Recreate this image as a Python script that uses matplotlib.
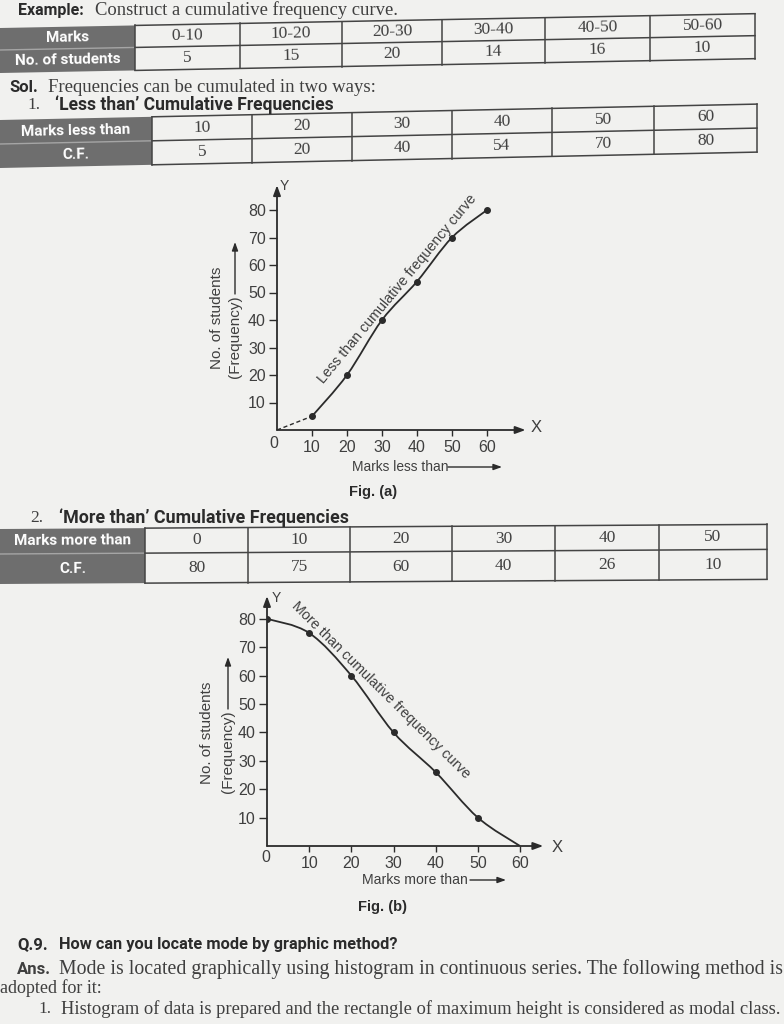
import math
import matplotlib
matplotlib.use('Agg')
import matplotlib.pyplot as plt
from matplotlib.patches import Polygon, PathPatch
from matplotlib.path import Path

W, H = 784, 1024

# ---- data
marks = ['0-10', '10-20', '20-30', '30-40', '40-50', '50-60']
students = [5, 15, 20, 14, 16, 10]
less_than = [10, 20, 30, 40, 50, 60]
less_cf = [5, 20, 40, 54, 70, 80]
more_than = [0, 10, 20, 30, 40, 50]
more_cf = [80, 75, 60, 40, 26, 10]
curve_b_x = more_than + [60]
curve_b_y = more_cf + [0]
x_ticks = [10, 20, 30, 40, 50, 60]
y_ticks = [10, 20, 30, 40, 50, 60, 70, 80]

SANS = ['Liberation Sans', 'DejaVu Sans']
BOLDSANS = ['Roboto', 'Liberation Sans', 'DejaVu Sans']
SERIF = ['Liberation Serif', 'DejaVu Serif']
INK = '#2b2b2b'
SOFT = '#3f3f3f'
HEAD = '#6e6e6e'
LINE = '#444444'

plt.rcParams['font.family'] = SANS

fig = plt.figure(figsize=(W / 100, H / 100), dpi=100, facecolor='#f1f1ef')
bg = fig.add_axes([0, 0, 1, 1])
bg.set_xlim(0, W)
bg.set_ylim(H, 0)
bg.axis('off')
fig.canvas.draw()
rend = fig.canvas.get_renderer()


def fit(x, y, s, width, rot=0, ha='left', **kw):
    # size the text so it spans the same width as on the page
    t = bg.text(x, y, s, fontsize=12, ha=ha, va='center', **kw)
    w = t.get_window_extent(rend).width
    t.set_fontsize(12 * width / w)
    t.set_rotation(rot)
    t.set_rotation_mode('anchor')
    return t


def put(x, y, s, size, rot=0, ha='left', **kw):
    return bg.text(x, y, s, fontsize=size, ha=ha, va='center', rotation=rot,
                   rotation_mode='anchor', **kw)


def table(top, mid, bot, slope, edges, heads, row1, row2):
    yy = lambda x, y: y - slope * x
    ang = math.degrees(math.atan(slope))
    xh, xr = edges[0], edges[-1]
    bg.add_patch(Polygon([(0, yy(0, top)), (xh, yy(xh, top)), (xh, yy(xh, bot)), (0, yy(0, bot))],
                         closed=True, fc=HEAD, ec='none'))
    bg.plot([0, xh], [yy(0, mid), yy(xh, mid)], color='#a5a5a5', lw=1)
    for y in (top, mid, bot):
        bg.plot([xh, xr], [yy(xh, y), yy(xr, y)], color=LINE, lw=1.1)
    for x in edges:
        bg.plot([x, x], [yy(x, top), yy(x, bot)], color=LINE, lw=1.1)
    for lab, y in zip(heads, [(top + mid) / 2, (mid + bot) / 2]):
        put(xh / 2, yy(xh / 2, y), lab, 11, rot=ang, ha='center', color='white',
            family=BOLDSANS, weight='bold')
    for i in range(len(row1)):
        xc = (edges[i] + edges[i + 1]) / 2
        put(xc, yy(xc, (top + mid) / 2), str(row1[i]), 12.5, rot=ang, ha='center',
            family=SERIF, color=SOFT)
        put(xc, yy(xc, (mid + bot) / 2), str(row2[i]), 12.5, rot=ang, ha='center',
            family=SERIF, color=SOFT)


def smooth(xs, ys):
    verts = [(xs[0], ys[0])]
    codes = [Path.MOVETO]
    n = len(xs)
    for i in range(n - 1):
        xa, ya = (xs[i - 1], ys[i - 1]) if i > 0 else (xs[i], ys[i])
        xb, yb = (xs[i + 2], ys[i + 2]) if i + 2 < n else (xs[i + 1], ys[i + 1])
        verts += [(xs[i] + (xs[i + 1] - xa) / 6, ys[i] + (ys[i + 1] - ya) / 6),
                  (xs[i + 1] - (xb - xs[i]) / 6, ys[i + 1] - (yb - ys[i]) / 6),
                  (xs[i + 1], ys[i + 1])]
        codes += [Path.CURVE4] * 3
    return Path(verts, codes)


def graph(ox, oy, sx, sy, xmax, ymax):
    ax = fig.add_axes([ox / W, 1 - oy / H, xmax * sx / W, ymax * sy / H])
    ax.set_xlim(0, xmax)
    ax.set_ylim(0, ymax)
    ax.patch.set_visible(False)
    for sp in ax.spines.values():
        sp.set_visible(False)
    arr = dict(arrowstyle='-|>,head_length=0.6,head_width=0.22', color=INK, lw=1.3,
               shrinkA=0, shrinkB=0)
    ax.annotate('', xy=(xmax, 0), xytext=(0, 0), arrowprops=arr, annotation_clip=False)
    ax.annotate('', xy=(0, ymax), xytext=(0, 0), arrowprops=arr, annotation_clip=False)
    ax.set_xticks(x_ticks)
    ax.set_yticks(y_ticks)
    ax.tick_params(axis='x', length=4, width=1, color=INK, pad=3, labelsize=11.5, labelcolor=SOFT)
    ax.tick_params(axis='y', length=6, width=1, color=INK, pad=2, labelsize=11.5, labelcolor=SOFT)
    return ax


def hand_arrow(x0, y0, x1, y1):
    bg.annotate('', xy=(x1, y1), xytext=(x0, y0),
                arrowprops=dict(arrowstyle='-|>,head_length=0.5,head_width=0.18', color=INK,
                                lw=1, shrinkA=0, shrinkB=0))


# ---- top text and tables
put(18, 10, 'Example:', 11.5, family=BOLDSANS, weight='bold', color=INK)
fit(95, 10, 'Construct a cumulative frequency curve.', 303, family=SERIF, color=SOFT)
table(28, 50, 73, 0.019, [135, 240, 342, 442, 545, 650, 755],
      ['Marks', 'No. of students'], marks, students)

put(9, 87, 'Sol.', 12, family=BOLDSANS, weight='bold', color=INK)
fit(48, 87, 'Frequencies can be cumulated in two ways:', 326, family=SERIF, color=SOFT)
put(27, 105, '1.', 12.5, family=SERIF, color=SOFT)
fit(55, 105, '\u2018Less than\u2019 Cumulative Frequencies', 279, family=BOLDSANS, weight='bold', color=INK)
table(120, 144, 168, 0.021, [152, 252, 352, 452, 552, 654, 757],
      ['Marks less than', 'C.F.'], less_than, less_cf)

# ---- Fig (a)
axa = graph(277, 430, 3.5, 2.75, 71, 89)
axa.plot([0, less_than[0]], [0, less_cf[0]], color=INK, lw=1, ls=(0, (3, 2)))
axa.add_patch(PathPatch(smooth(less_than, less_cf), fc='none', ec=INK, lw=1.3))
axa.plot(less_than, less_cf, 'o', color=INK, ms=4)
put(274, 443, '0', 11.5, ha='center', color=SOFT)
put(536, 428, 'X', 12, ha='center', color=SOFT)
put(284, 186, 'Y', 10, ha='center', color=SOFT)
put(217, 318, 'No. of students', 11, rot=90, ha='center', color=SOFT)
put(235, 337, '(Frequency)', 11, rot=90, ha='center', color=SOFT)
hand_arrow(235, 294, 235, 242)
fit(397, 289, 'Less than cumulative frequency curve', 239, rot=50.4, ha='center', color=SOFT)
fit(352, 467, 'Marks less than', 96, color=SOFT)
hand_arrow(448, 467, 502, 467)
put(373, 492, 'Fig. (a)', 10.5, ha='center', weight='bold', color=INK)

# ---- second table
put(30, 518, '2.', 12.5, family=SERIF, color=SOFT)
fit(59, 518, '\u2018More than\u2019 Cumulative Frequencies', 288, family=BOLDSANS, weight='bold', color=INK)
table(529, 554, 584, 0.006, [145, 248, 350, 452, 555, 659, 767],
      ['Marks more than', 'C.F.'], more_than, more_cf)

# ---- Fig (b)
axb = graph(267, 846, 4.217, 2.84, 65.5, 88)
axb.add_patch(PathPatch(smooth(curve_b_x, curve_b_y), fc='none', ec=INK, lw=1.3))
axb.plot(more_than, more_cf, 'o', color=INK, ms=4)
put(266, 858, '0', 11.5, ha='center', color=SOFT)
put(557, 848, 'X', 12, ha='center', color=SOFT)
put(276, 598, 'Y', 10, ha='center', color=SOFT)
put(207, 733, 'No. of students', 11, rot=90, ha='center', color=SOFT)
put(228, 752, '(Frequency)', 11, rot=90, ha='center', color=SOFT)
hand_arrow(228, 709, 228, 657)
fit(381, 690, 'More than cumulative frequency curve', 246, rot=-44.7, ha='center', color=SOFT)
fit(362, 880, 'Marks more than', 105, color=SOFT)
hand_arrow(470, 880, 506, 880)
put(383, 907, 'Fig. (b)', 10.5, ha='center', weight='bold', color=INK)

# ---- Q.9 text at the foot of the page
put(17, 945, 'Q.9.', 12, family=BOLDSANS, weight='bold', color=INK)
fit(59, 945, 'How can you locate mode by graphic method?', 338, family=BOLDSANS, weight='bold', color=INK)
put(17, 969, 'Ans.', 12, family=BOLDSANS, weight='bold', color=SOFT)
fit(59, 969, 'Mode is located graphically using histogram in continuous series. The following method is',
    721, family=SERIF, color=SOFT)
fit(0, 988, 'adopted for it:', 102, family=SERIF, color=SOFT)
put(38, 1009, '1.', 12.5, family=SERIF, color=SOFT)
fit(61, 1009, 'Histogram of data is prepared and the rectangle of maximum height is considered as modal class.',
    719, family=SERIF, color=SOFT)

fig.savefig('out.png', dpi=100, facecolor=fig.get_facecolor())
